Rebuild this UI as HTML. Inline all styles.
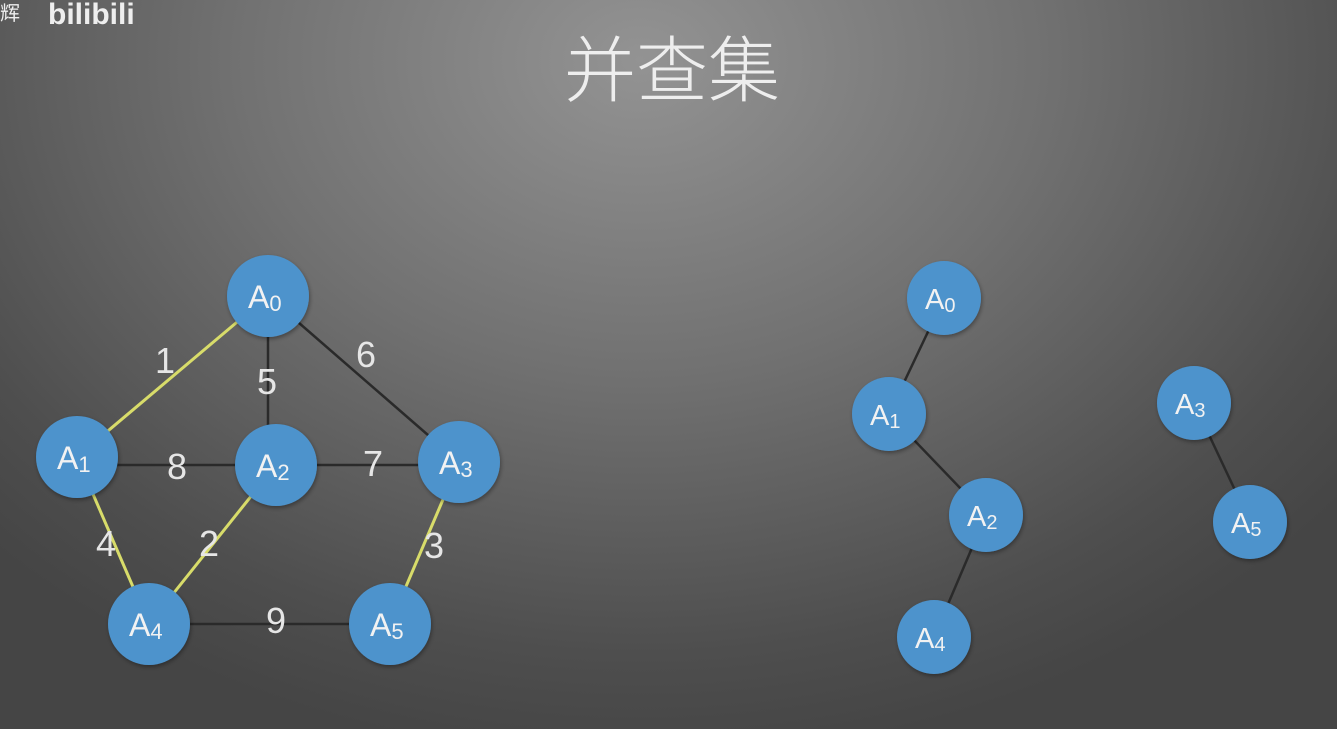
<!DOCTYPE html>
<html><head><meta charset="utf-8"><style>
html,body{margin:0;padding:0}
body{width:1337px;height:729px;overflow:hidden;background:radial-gradient(ellipse 900px 700px at 640px 60px,#939393 0%,#717171 45%,#4e4e4e 85%,#454545 100%);font-family:"Liberation Sans","Noto Sans CJK SC",sans-serif}
</style></head><body>
<svg width="1337" height="729" style="position:absolute;left:0;top:0">
<defs><filter id="sh" x="-30%" y="-30%" width="160%" height="160%"><feDropShadow dx="1" dy="2" stdDeviation="2" flood-color="#000" flood-opacity="0.35"/></filter></defs>
<text x="0" y="20" font-size="20" fill="#eee" font-family="Noto Sans CJK SC,sans-serif">辉</text>
<text x="48" y="24" font-size="30" font-weight="bold" fill="#eee" font-family="Liberation Sans,sans-serif">bilibili</text>
<text x="672" y="96" text-anchor="middle" font-size="72" font-weight="300" fill="#eeeeee" font-family="Noto Sans CJK SC,sans-serif">并查集</text>
<g stroke="#2a2a2a" stroke-width="2.5">
<line x1="268" y1="296" x2="459" y2="462"/><line x1="268" y1="296" x2="268" y2="465"/>
<line x1="77" y1="465" x2="459" y2="465"/><line x1="149" y1="624" x2="390" y2="624"/>
<line x1="944" y1="298" x2="889" y2="414"/><line x1="889" y1="414" x2="986" y2="515"/><line x1="986" y1="515" x2="934" y2="637"/>
<line x1="1194" y1="403" x2="1250" y2="522"/>
</g>
<g stroke="#d8dc6a" stroke-width="3">
<line x1="268" y1="296" x2="77" y2="457"/><line x1="77" y1="457" x2="149" y2="624"/>
<line x1="276" y1="465" x2="149" y2="624"/><line x1="459" y1="462" x2="390" y2="624"/>
</g>
<g font-size="36" fill="#e6e6e6" text-anchor="middle">
<text x="165" y="373">1</text><text x="267" y="394">5</text><text x="366" y="367">6</text>
<text x="177" y="479">8</text><text x="373" y="476">7</text><text x="106" y="556">4</text>
<text x="209" y="556">2</text><text x="434" y="558">3</text><text x="276" y="633">9</text>
</g>
<g fill="#4d93cc" filter="url(#sh)">
<circle cx="268" cy="296" r="41"/><circle cx="77" cy="457" r="41"/><circle cx="276" cy="465" r="41"/>
<circle cx="459" cy="462" r="41"/><circle cx="149" cy="624" r="41"/><circle cx="390" cy="624" r="41"/>
<circle cx="944" cy="298" r="37"/><circle cx="889" cy="414" r="37"/><circle cx="986" cy="515" r="37"/>
<circle cx="934" cy="637" r="37"/><circle cx="1194" cy="403" r="37"/><circle cx="1250" cy="522" r="37"/>
</g>
<g fill="#f2f2f2" font-size="32">
<text x="248" y="308">A<tspan font-size="22" dy="3">0</tspan></text>
<text x="57" y="469">A<tspan font-size="22" dy="3">1</tspan></text>
<text x="256" y="477">A<tspan font-size="22" dy="3">2</tspan></text>
<text x="439" y="474">A<tspan font-size="22" dy="3">3</tspan></text>
<text x="129" y="636">A<tspan font-size="22" dy="3">4</tspan></text>
<text x="370" y="636">A<tspan font-size="22" dy="3">5</tspan></text>
</g>
<g fill="#f2f2f2" font-size="29">
<text x="925" y="309">A<tspan font-size="20" dy="3">0</tspan></text>
<text x="870" y="425">A<tspan font-size="20" dy="3">1</tspan></text>
<text x="967" y="526">A<tspan font-size="20" dy="3">2</tspan></text>
<text x="915" y="648">A<tspan font-size="20" dy="3">4</tspan></text>
<text x="1175" y="414">A<tspan font-size="20" dy="3">3</tspan></text>
<text x="1231" y="533">A<tspan font-size="20" dy="3">5</tspan></text>
</g>
</svg>
</body></html>
